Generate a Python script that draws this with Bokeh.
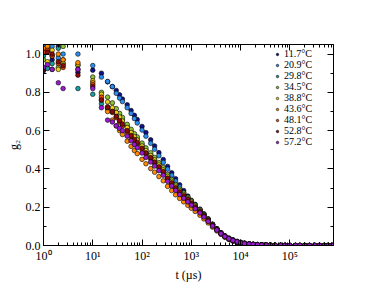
from bokeh.plotting import figure
from bokeh.models import FixedTicker, LogAxis, LinearAxis, Range1d
from bokeh.embed import file_html
from bokeh.resources import INLINE

# lag time (microseconds)
t_us = [1, 1.2, 1.5, 2, 2.5, 5, 10,
        15, 20, 25, 30, 35, 40, 50, 60, 70, 80,
        100, 120, 150, 180, 220, 270, 330, 400, 480, 580, 700, 850,
        1000, 1200, 1500, 1800, 2200, 2700, 3300, 4000, 4800, 5800, 7000, 8500,
        10000, 12000, 15000, 18000, 22000, 27000, 33000, 40000, 50000, 65000, 80000,
        100000, 130000, 160000, 200000, 250000, 320000, 400000, 500000, 600000, 720000]

g2_11_7 = [0.913, 1.02, 0.97, 1.04, 0.95, 0.905, 0.916,
           0.90, 0.855, 0.83, 0.81, 0.787, 0.765, 0.735, 0.705, 0.68, 0.658,
           0.622, 0.59, 0.552, 0.52, 0.485, 0.449, 0.413, 0.38, 0.349, 0.317, 0.287, 0.258,
           0.236, 0.215, 0.19, 0.166, 0.14, 0.112, 0.088, 0.067, 0.051, 0.039, 0.03, 0.022,
           0.017, 0.013, 0.009, 0.007, 0.005, 0.004, 0.003, 0.002, 0.0015, 0.001, 0.001,
           0.0005, 0.0005, 0.0, 0.0, 0.0005, 0.0, 0.0, 0.0, 0.0005, 0.0]

g2_20_9 = [1.04, 0.93, 1.04, 0.98, 1.00, 1.00, 0.94,
           0.88, 0.857, 0.83, 0.795, 0.77, 0.752, 0.72, 0.69, 0.663, 0.64,
           0.603, 0.571, 0.534, 0.503, 0.469, 0.434, 0.399, 0.367, 0.337, 0.306, 0.277, 0.25,
           0.229, 0.209, 0.185, 0.162, 0.137, 0.11, 0.086, 0.066, 0.05, 0.038, 0.029, 0.021,
           0.016, 0.012, 0.0085, 0.0065, 0.005, 0.0035, 0.0025, 0.002, 0.0015, 0.001, 0.0005,
           0.0005, 0.0, 0.0005, 0.0, 0.0, 0.0, 0.0005, 0.0, 0.0, 0.0]

g2_29_8 = [0.99, 0.925, 0.95, 1.03, 0.97, 0.82, 0.79,
           0.74, 0.715, 0.70, 0.69, 0.675, 0.656, 0.622, 0.595, 0.573, 0.556,
           0.525, 0.50, 0.475, 0.452, 0.425, 0.399, 0.365, 0.338, 0.313, 0.29, 0.269, 0.248,
           0.229, 0.208, 0.184, 0.161, 0.135, 0.109, 0.086, 0.065, 0.048, 0.036, 0.026, 0.019,
           0.014, 0.01, 0.007, 0.005, 0.004, 0.003, 0.002, 0.001, 0.001, 0.001, 0.0,
           0.0, 0.001, 0.0, 0.0, 0.0, 0.0, 0.001, 0.0, 0.0, 0.0]

g2_34_5 = [0.97, 1.03, 0.99, 0.93, 1.04, 0.94, 0.88,
           0.80, 0.775, 0.745, 0.715, 0.69, 0.669, 0.633, 0.607, 0.584, 0.567,
           0.535, 0.51, 0.484, 0.46, 0.433, 0.407, 0.371, 0.345, 0.319, 0.295, 0.274, 0.252,
           0.233, 0.211, 0.186, 0.162, 0.136, 0.109, 0.085, 0.064, 0.047, 0.034, 0.025, 0.018,
           0.013, 0.009, 0.007, 0.005, 0.004, 0.003, 0.002, 0.001, 0.001, 0.0, 0.001,
           0.0, 0.0, 0.0, 0.001, 0.0, 0.0, 0.0, 0.001, 0.0, 0.0]

g2_38_8 = [1.03, 0.96, 1.02, 0.92, 0.95, 0.945, 0.86,
           0.79, 0.75, 0.72, 0.695, 0.671, 0.65, 0.616, 0.59, 0.568, 0.551,
           0.52, 0.496, 0.47, 0.447, 0.421, 0.395, 0.361, 0.335, 0.31, 0.287, 0.266, 0.245,
           0.227, 0.206, 0.182, 0.159, 0.134, 0.108, 0.085, 0.064, 0.048, 0.035, 0.026, 0.019,
           0.0135, 0.01, 0.007, 0.005, 0.0035, 0.0025, 0.002, 0.0015, 0.001, 0.0005, 0.0,
           0.0005, 0.0, 0.0, 0.0, 0.0005, 0.0, 0.0, 0.0, 0.0005, 0.0]

g2_43_6 = [1.03, 1.04, 0.92, 1.00, 0.97, 0.955, 0.85,
           0.76, 0.70, 0.655, 0.625, 0.60, 0.58, 0.545, 0.518, 0.496, 0.48,
           0.45, 0.427, 0.402, 0.383, 0.36, 0.338, 0.309, 0.287, 0.265, 0.246, 0.228, 0.21,
           0.195, 0.178, 0.158, 0.139, 0.118, 0.096, 0.076, 0.058, 0.043, 0.032, 0.023, 0.017,
           0.012, 0.009, 0.006, 0.0045, 0.003, 0.0025, 0.002, 0.001, 0.001, 0.0, 0.0005,
           0.0, 0.0, 0.0005, 0.0, 0.0, 0.0, 0.0005, 0.0, 0.0, 0.0]

g2_48_1 = [1.01, 1.02, 0.99, 0.95, 0.93, 0.92, 0.84,
           0.775, 0.725, 0.695, 0.668, 0.645, 0.625, 0.592, 0.567, 0.546, 0.53,
           0.50, 0.477, 0.452, 0.43, 0.405, 0.38, 0.347, 0.322, 0.298, 0.276, 0.256, 0.236,
           0.218, 0.198, 0.175, 0.153, 0.129, 0.104, 0.082, 0.062, 0.046, 0.034, 0.025, 0.018,
           0.013, 0.0095, 0.007, 0.005, 0.0035, 0.0025, 0.002, 0.0015, 0.001, 0.001, 0.0005,
           0.0005, 0.0, 0.0005, 0.0, 0.0, 0.0005, 0.0, 0.0, 0.0, 0.0]

g2_52_8 = [0.92, 1.01, 1.0, 0.96, 0.94, 0.89, 0.83,
           0.76, 0.72, 0.70, 0.675, 0.652, 0.634, 0.60, 0.575, 0.554, 0.538,
           0.508, 0.484, 0.459, 0.436, 0.411, 0.386, 0.352, 0.327, 0.302, 0.28, 0.26, 0.24,
           0.221, 0.201, 0.178, 0.156, 0.131, 0.106, 0.083, 0.063, 0.047, 0.035, 0.025, 0.018,
           0.013, 0.0095, 0.007, 0.005, 0.0035, 0.0025, 0.002, 0.0015, 0.001, 0.0005, 0.0005,
           0.0, 0.0, 0.0, 0.0005, 0.0, 0.0, 0.0, 0.0005, 0.0, 0.0]

g2_57_2 = [0.93, 0.945, 0.92, 0.85, 0.82, 0.92, 0.82,
           0.72, 0.655, 0.645, 0.625, 0.612, 0.60, 0.571, 0.547, 0.527, 0.511,
           0.483, 0.46, 0.436, 0.415, 0.391, 0.367, 0.335, 0.311, 0.288, 0.266, 0.247, 0.228,
           0.211, 0.192, 0.17, 0.149, 0.126, 0.102, 0.081, 0.062, 0.047, 0.035, 0.026, 0.019,
           0.014, 0.01, 0.0075, 0.0055, 0.004, 0.003, 0.002, 0.0015, 0.001, 0.001, 0.0005,
           0.0005, 0.0, 0.0005, 0.0, 0.0, 0.0005, 0.0, 0.0, 0.0, 0.0]

temps = ["11.7°C", "20.9°C", "29.8°C", "34.5°C", "38.8°C",
         "43.6°C", "48.1°C", "52.8°C", "57.2°C"]
series = [g2_11_7, g2_20_9, g2_29_8, g2_34_5, g2_38_8,
          g2_43_6, g2_48_1, g2_52_8, g2_57_2]
colors = ["#10108c", "#2b8ff0", "#1a9f9f", "#8fc43a", "#f2d21a",
          "#ff8c00", "#f04a0a", "#8b0a0a", "#9a1ad2"]

x_major = [1, 10, 100, 1000, 10000, 100000]
x_labels = ["10⁰", "10¹", "10²", "10³", "10⁴", "10⁵"]
x_minor = [k * 10 ** n for n in range(0, 6) for k in range(2, 10)]
y_major = [0.0, 0.2, 0.4, 0.6, 0.8, 1.0]
y_minor = [0.1, 0.3, 0.5, 0.7, 0.9]

FONT = "Liberation Serif"

p = figure(width=370, height=285, x_axis_type="log",
           x_range=Range1d(1, 7.7e5), y_range=Range1d(0, 1.05),
           output_backend="svg", toolbar_location=None,
           min_border_left=43, min_border_right=37,
           min_border_top=44, min_border_bottom=40)
p.grid.visible = False
p.outline_line_color = "black"
p.outline_line_width = 1
p.background_fill_color = "white"

for ys, col, lab in zip(series, colors, temps):
    p.scatter(t_us, ys, marker="circle", size=4.6, fill_color=col,
              line_color="black", line_width=0.6, legend_label=lab)

xt = FixedTicker(ticks=x_major, minor_ticks=x_minor)
yt = FixedTicker(ticks=y_major, minor_ticks=y_minor)
p.xaxis.ticker = xt
p.yaxis.ticker = yt
p.xaxis.major_label_overrides = {v: s for v, s in zip(x_major, x_labels)}
p.yaxis.major_label_overrides = {v: "%.1f" % v for v in y_major}
p.xaxis.axis_label = "t (µs)"
p.yaxis.axis_label = "g₂"

top = LogAxis(ticker=xt)
right = LinearAxis(ticker=yt)
top.major_label_overrides = {v: "" for v in x_major}
right.major_label_overrides = {v: "" for v in y_major}
p.add_layout(top, "above")
p.add_layout(right, "right")

for ax in p.axis:
    ax.axis_line_color = "black"
    ax.major_tick_in = 6
    ax.major_tick_out = 0
    ax.minor_tick_in = 3
    ax.minor_tick_out = 0
    ax.major_tick_line_color = "black"
    ax.minor_tick_line_color = "black"
    ax.major_label_text_font = FONT
    ax.major_label_text_font_size = "12px"
    ax.major_label_text_color = "black"
    ax.major_label_standoff = 3
    ax.axis_label_text_font = FONT
    ax.axis_label_text_font_size = "12px"
    ax.axis_label_text_font_style = "normal"
    ax.axis_label_text_color = "black"
    ax.axis_label_standoff = 2

leg = p.legend[0]
leg.location = (231, 98)
leg.border_line_alpha = 0
leg.background_fill_alpha = 0
leg.padding = 0
leg.margin = 0
leg.spacing = -2
leg.glyph_width = 6
leg.glyph_height = 6
leg.label_height = 6
leg.label_standoff = 4
leg.label_text_font = FONT
leg.label_text_font_size = "10px"
leg.label_text_color = "black"

open("out.html", "w").write(file_html(p, INLINE))
